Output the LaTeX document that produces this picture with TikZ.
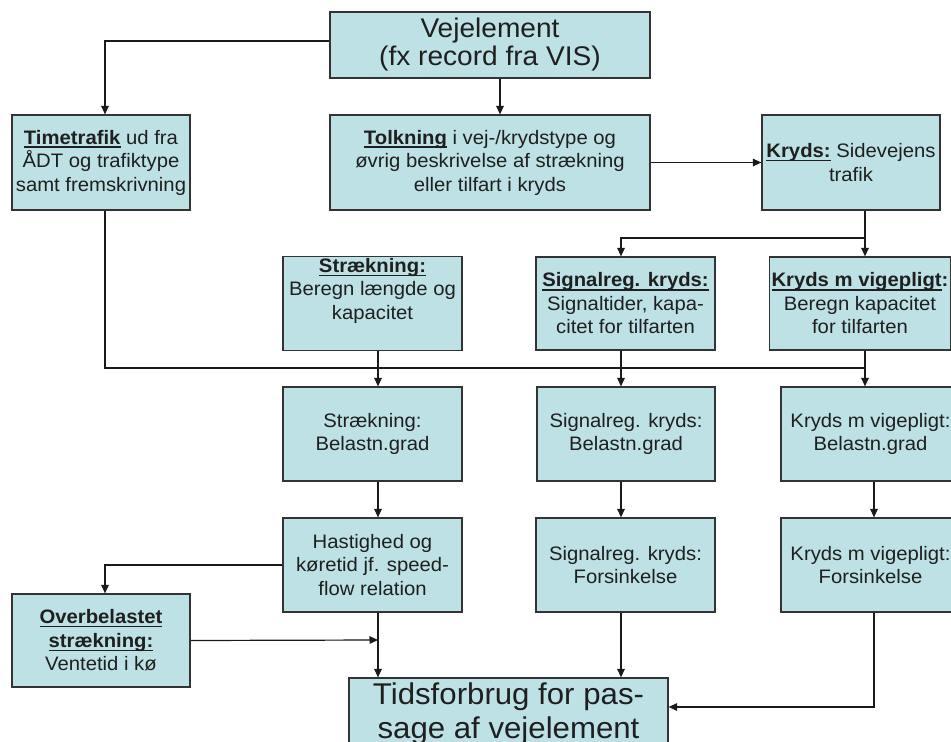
\documentclass[tikz,border=0pt]{standalone}
\usepackage{fontspec}
\setmainfont{Liberation Sans}[FakeStretch=1.04]
\usetikzlibrary{arrows.meta}
\definecolor{boxfill}{HTML}{BDE1E4}
\definecolor{boxline}{HTML}{333333}
\definecolor{conline}{HTML}{1A1A1A}
\newcommand{\myul}[1]{\leavevmode\setbox0\hbox{#1}\rlap{\rule[-3.6pt]{\wd0}{1.3pt}}\box0\relax}
\newcommand{\bu}[1]{\myul{\textbf{#1}}}
\begin{document}
\begin{tikzpicture}[x=1pt,y=-1pt,
  box/.style={draw=boxline, fill=boxfill, line width=1.2pt, align=center, inner sep=2pt,
    text=black!88, font=\fontsize{19.5}{23.5}\selectfont},
  bigbox/.style={box, font=\fontsize{27}{28}\selectfont},
  hugebox/.style={box, font=\fontsize{30}{34}\selectfont},
  ln/.style={draw=conline, line width=1.2pt},
  arr/.style={ln, -{Triangle[width=7.5pt,length=8.5pt]}}]
\useasboundingbox (0,0) rectangle (951,742);
\fill[white] (0,0) rectangle (951,742);
\clip (0,0) rectangle (951,742);

\node[bigbox, minimum width=320, minimum height=66] (vej) at (490,45) {Vejelement\\(fx record fra VIS)};
\node[box, minimum width=178, minimum height=95] (time) at (101,162.5) {\bu{Timetrafik} ud fra\\ÅDT og trafiktype\\samt fremskrivning};
\node[box, minimum width=320, minimum height=95] (tolk) at (490,162.5) {\bu{Tolkning} i vej-/krydstype og\\øvrig beskrivelse af strækning\\eller tilfart i kryds};
\node[box, minimum width=178, minimum height=95] (kryds) at (851,162.5) {\bu{Kryds:} Sidevejens\\trafik};

\node[box, minimum width=179, minimum height=93] (straek) at (372.5,303.5) {\bu{Strækning:}\\Beregn længde og\\kapacitet\\[6pt]\mbox{}};
\node[box, minimum width=179, minimum height=93] (sig) at (625.5,303.5) {\bu{Signalreg. kryds:}\\Signaltider, kapa-\\citet for tilfarten};
\node[box, minimum width=178, minimum height=93] (vige) at (860,303.5) {\bu{Kryds m vigepligt}\textbf{:}\\Beregn kapacitet\\for tilfarten};

\node[box, minimum width=179, minimum height=94] (straekB) at (372.5,434) {Strækning:\\Belastn.grad};
\node[box, minimum width=178, minimum height=94] (sigB) at (626,434) {Signalreg. kryds:\\Belastn.grad};
\node[box, minimum width=179, minimum height=94] (vigeB) at (870.5,434) {Kryds m vigepligt:\\Belastn.grad};

\node[box, minimum width=179, minimum height=94] (hast) at (372.5,565) {Hastighed og\\køretid jf. speed-\\flow relation};
\node[box, minimum width=179, minimum height=94] (sigF) at (625.5,565) {Signalreg. kryds:\\Forsinkelse};
\node[box, minimum width=179, minimum height=94] (vigeF) at (870.5,565) {Kryds m vigepligt:\\Forsinkelse};

\node[box, minimum width=178, minimum height=93] (over) at (101,640.5) {\bu{Overbelastet}\\\bu{strækning:}\\Ventetid i kø};
\node[hugebox, minimum width=319, minimum height=72] (tids) at (508.5,714) {Tidsforbrug for pas-\\sage af vejelement};

\coordinate (j1) at (865,238);
\coordinate (j3) at (865,368);
\coordinate (j4) at (378,640);

\draw[arr] ([yshift=4pt]vej.west) -| ([xshift=4pt]time.north);
\draw[arr] ([xshift=10pt]vej.south) -- ([xshift=10pt]tolk.north);
\draw[arr] (tolk.east) -- (kryds.west);
\draw[ln] ([xshift=14pt]kryds.south) -- (j1);
\draw[arr] (j1) -| ([xshift=-4.5pt]sig.north);
\draw[arr] (j1) -- ([xshift=5pt]vige.north);

\draw[ln] ([xshift=4pt]time.south) |- (j3);
\draw[arr] ([xshift=5.5pt]straek.south) -- ([xshift=5.5pt]straekB.north);
\draw[arr] ([xshift=-4.5pt]sig.south) -- ([xshift=-5pt]sigB.north);
\draw[arr] ([xshift=5pt]vige.south) -- ([xshift=-5.5pt]vigeB.north);

\draw[arr] ([xshift=5.5pt]straekB.south) -- ([xshift=5.5pt]hast.north);
\draw[arr] ([xshift=-5pt]sigB.south) -- ([xshift=-4.5pt]sigF.north);
\draw[arr] ([xshift=3.5pt]vigeB.south) -- ([xshift=3.5pt]vigeF.north);

\draw[arr] (hast.west) -| ([xshift=4pt]over.north);
\draw[arr] ([xshift=5.5pt]hast.south) -- ([xshift=-130.5pt]tids.north);
\draw[arr] (over.east) -- (j4);
\draw[arr] ([xshift=-4.5pt]sigF.south) -- ([xshift=112.5pt]tids.north);
\draw[arr] ([xshift=3.5pt]vigeF.south) |- ([yshift=7pt]tids.east);
\end{tikzpicture}
\end{document}
